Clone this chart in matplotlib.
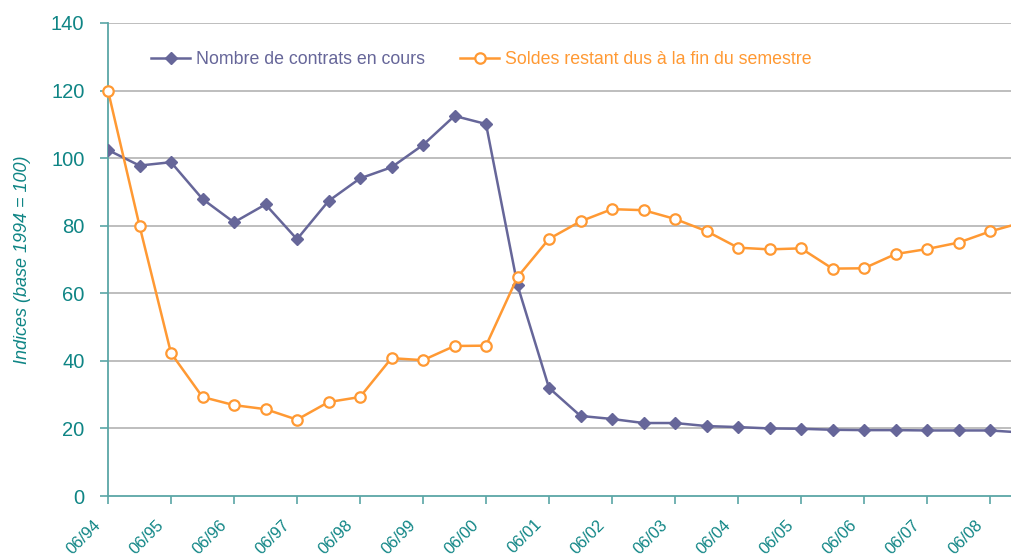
import matplotlib
matplotlib.use("Agg")
import matplotlib.pyplot as plt
import matplotlib.transforms as mtransforms
import numpy as np

plt.rcParams['font.family'] = ['Liberation Sans', 'DejaVu Sans']

periods = ["06/94", "12/94", "06/95", "12/95", "06/96", "12/96", "06/97", "12/97",
           "06/98", "12/98", "06/99", "12/99", "06/00", "12/00", "06/01", "12/01",
           "06/02", "12/02", "06/03", "12/03", "06/04", "12/04", "06/05", "12/05",
           "06/06", "12/06", "06/07", "12/07", "06/08", "12/08"]

contrats = [102.4, 97.8, 98.8, 87.9, 81.0, 86.3, 76.0, 87.3, 94.0, 97.3,
            103.9, 112.5, 110.1, 62.4, 32.0, 23.7, 22.8, 21.6, 21.6, 20.7,
            20.4, 20.0, 19.9, 19.6, 19.5, 19.5, 19.4, 19.4, 19.4, 18.8]

soldes = [120.0, 80.0, 42.3, 29.3, 26.9, 25.7, 22.6, 27.8, 29.3, 40.8,
          40.2, 44.4, 44.5, 64.8, 76.1, 81.3, 84.9, 84.6, 82.0, 78.4,
          73.5, 73.0, 73.3, 67.3, 67.4, 71.6, 73.1, 75.0, 78.3, 80.9]

tick_labels = ["06/94", "06/95", "06/96", "06/97", "06/98", "06/99", "06/00",
               "06/01", "06/02", "06/03", "06/04", "06/05", "06/06", "06/07", "06/08"]

teal = "#0f8585"
axis_col = "#5aa6a6"
purple = "#666699"
orange = "#ff9933"

fig = plt.figure(figsize=(10.11, 5.56), dpi=100)
ax = fig.add_axes([108/1011, 60/556, 1 - 108/1011, 473/556])

x = np.arange(len(periods))
ax.plot(x, contrats, color=purple, lw=1.8, marker='D', ms=6.5,
        mfc=purple, mec=purple, label="Nombre de contrats en cours", zorder=3)
ax.plot(x, soldes, color=orange, lw=1.8, marker='o', ms=7.5, mfc='white',
        mec=orange, mew=1.6, label="Soldes restant dus à la fin du semestre", zorder=4)

ax.set_xlim(0, (1011 - 108) / 31.5)
ax.set_ylim(0, 140)
ax.set_yticks(np.arange(0, 141, 20))
tick_pos = np.arange(0, 29, 2)
ax.set_xticks(tick_pos)
ax.set_xticklabels([])

base = mtransforms.blended_transform_factory(ax.transData, ax.transAxes)
offset = mtransforms.ScaledTranslation(-15/100, -21/100, fig.dpi_scale_trans)
for p, lab in zip(tick_pos, tick_labels):
    ax.text(p, 0, lab, transform=base + offset, rotation=45, ha='right', va='top',
            rotation_mode='anchor', color=teal, fontsize=11.8, clip_on=False)

for g in range(20, 141, 20):
    ax.axhline(g, color="#b3b3b3", lw=1.2, zorder=1)

for s in ['top', 'right']:
    ax.spines[s].set_visible(False)
ax.spines['left'].set_color(axis_col)
ax.spines['bottom'].set_color(axis_col)
ax.spines['left'].set_linewidth(1.3)
ax.spines['bottom'].set_linewidth(1.3)

ax.tick_params(axis='y', colors=axis_col, labelcolor=teal, labelsize=14.5, length=6, width=1.2, pad=11)
ax.tick_params(axis='x', colors=axis_col, length=6, width=1.2)

ax.set_ylabel("Indices (base 1994 = 100)", color=teal, fontsize=13, style='italic', labelpad=14)

leg = ax.legend(loc='upper left', bbox_to_anchor=(0.03, 0.975), ncol=2, frameon=False,
                fontsize=12.8, handlelength=2.2, columnspacing=2.0, handletextpad=0.3)
for t, c in zip(leg.get_texts(), [purple, orange]):
    t.set_color(c)

ax.get_lines()[1].set_clip_on(False)

fig.savefig("out.png", dpi=100)
